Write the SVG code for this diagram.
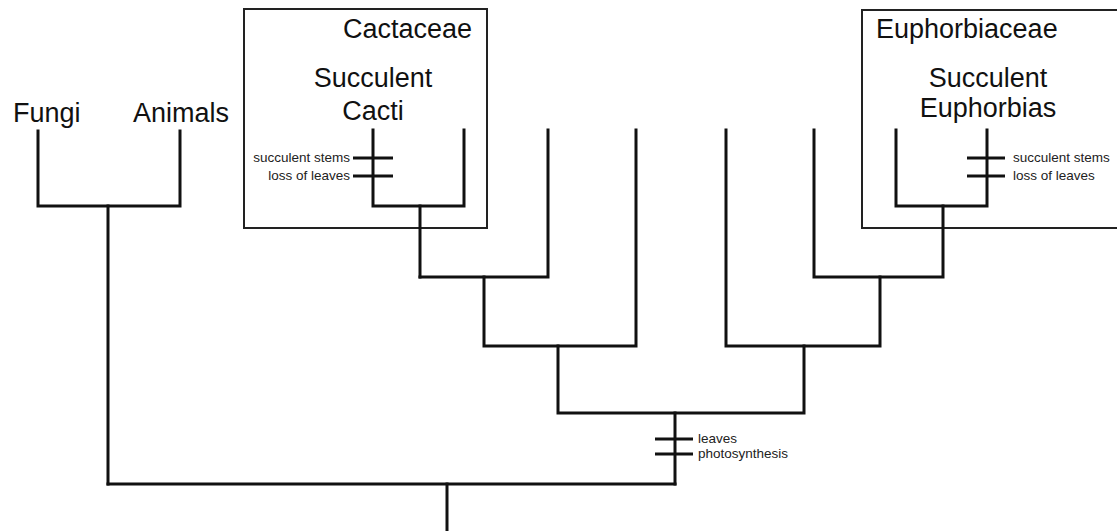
<svg xmlns="http://www.w3.org/2000/svg" width="1117" height="531" viewBox="0 0 1117 531">
<style>
.bg{fill:#fff}
.box{fill:none;stroke:#222;stroke-width:2}
.br{fill:none;stroke:#111;stroke-width:3;stroke-linejoin:miter;stroke-linecap:square}
.tk{fill:none;stroke:#111;stroke-width:3}
.big{font-family:"Liberation Sans",Arial,sans-serif;font-size:27px;fill:#111}
.sm{font-family:"Liberation Sans",Arial,sans-serif;font-size:13.5px;fill:#222}
</style>
<rect class="bg" x="0" y="0" width="1117" height="531"/>
<g id="cactaceae">
<rect class="box" x="244" y="9" width="243" height="219"/>
<text class="big" x="472" y="38" text-anchor="end">Cactaceae</text>
<text class="big" x="373" y="87" text-anchor="middle">Succulent</text>
<text class="big" x="373" y="120" text-anchor="middle">Cacti</text>
</g>
<g id="euphorbiaceae">
<rect class="box" x="862" y="10" width="262" height="218"/>
<text class="big" x="876" y="38">Euphorbiaceae</text>
<text class="big" x="988" y="87" text-anchor="middle">Succulent</text>
<text class="big" x="988" y="117" text-anchor="middle">Euphorbias</text>
</g>
<g id="fungi"><text class="big" x="13" y="122">Fungi</text></g>
<g id="animals"><text class="big" x="133" y="122">Animals</text></g>
<g id="connectors">
<path class="br" d="M38,131 V206 H180 V131"/>
<path class="br" d="M108,206 V484"/>
<path class="br" d="M108,484 H675"/>
<path class="br" d="M447,484 V531"/>
<path class="br" d="M373,130 V206 H464 V130"/>
<path class="br" d="M420,206 V277"/>
<path class="br" d="M420,277 H548 V130"/>
<path class="br" d="M484,277 V346 H636 V130"/>
<path class="br" d="M558,346 V413 H804 V346"/>
<path class="br" d="M726,130 V346 H880 V277"/>
<path class="br" d="M814,130 V277 H943 V206"/>
<path class="br" d="M896,130 V206 H987 V130"/>
<path class="br" d="M675,413 V484"/>
</g>
<g id="cacti-traits">
<path class="tk" d="M353,158 H393 M353,176 H393"/>
<text class="sm" x="350" y="162" text-anchor="end">succulent stems</text>
<text class="sm" x="350" y="180" text-anchor="end">loss of leaves</text>
</g>
<g id="euphorbia-traits">
<path class="tk" d="M967,158 H1005 M967,176 H1005"/>
<text class="sm" x="1013" y="162">succulent stems</text>
<text class="sm" x="1013" y="180">loss of leaves</text>
</g>
<g id="plant-traits">
<path class="tk" d="M655,439 H693 M655,454 H693"/>
<text class="sm" x="698" y="443">leaves</text>
<text class="sm" x="698" y="458">photosynthesis</text>
</g>
</svg>
